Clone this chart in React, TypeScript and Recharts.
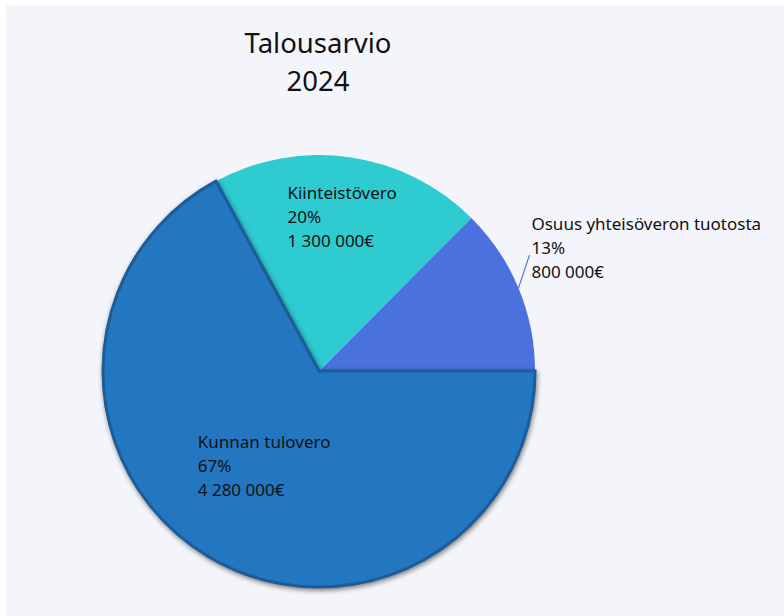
import * as React from "react";
import { PieChart, Pie, Cell } from "recharts";

const categories = ["Osuus yhteisöveron tuotosta", "Kiinteistövero", "Kunnan tulovero"];
const amounts = [800000, 1300000, 4280000];
const percentLabels = ["13%", "20%", "67%"];
const amountLabels = ["800 000€", "1 300 000€", "4 280 000€"];

const COLORS = ["#4a71de", "#2ecbd1", "#2277c0"];
const FONT = "'Segoe UI', 'Noto Sans', 'Open Sans', sans-serif";

const data = categories.map((name, i) => ({
  name,
  value: amounts[i],
  pct: percentLabels[i],
  amount: amountLabels[i],
}));

const RAD = Math.PI / 180;

const renderLabel = (props: any) => {
  const { cx, cy, midAngle, outerRadius, index } = props;
  const d = data[index];
  const lines = [d.name, d.pct, d.amount];
  const lh = 24;

  if (index === 0) {
    // outside label with a short leader line
    const sx = cx + outerRadius * Math.cos(-midAngle * RAD);
    const sy = cy + outerRadius * Math.sin(-midAngle * RAD);
    const ex = sx + 11;
    const ey = sy - 33;
    return (
      <g>
        <line x1={sx} y1={sy} x2={ex} y2={ey} stroke={COLORS[0]} strokeWidth={1.2} />
        {lines.map((t, i) => (
          <text
            key={i}
            x={ex + 2}
            y={ey - 32 + i * lh}
            fill="#111"
            fontSize={17}
            fontFamily={FONT}
            dominantBaseline="central"
          >
            {t}
          </text>
        ))}
      </g>
    );
  }

  const factor = index === 1 ? 0.73 : 0.5;
  const mx = cx + outerRadius * factor * Math.cos(-midAngle * RAD);
  const my = cy + outerRadius * factor * Math.sin(-midAngle * RAD);
  const w = index === 1 ? 108 : 132;
  return (
    <g>
      {lines.map((t, i) => (
        <text
          key={i}
          x={mx - w / 2}
          y={my + (i - 1) * lh + (index === 1 ? 2 : 2)}
          fill="#111"
          fontSize={17}
          fontFamily={FONT}
          dominantBaseline="central"
        >
          {t}
        </text>
      ))}
    </g>
  );
};

export default function App() {
  return (
    <div
      style={{
        position: "absolute",
        left: 6,
        top: 5,
        width: 778,
        height: 611,
        background: "#f4f5fa",
        fontFamily: FONT,
      }}
    >
      <div
        style={{
          position: "absolute",
          left: 212,
          top: 19,
          width: 200,
          textAlign: "center",
          fontSize: 27.5,
          lineHeight: "38px",
          color: "#111",
        }}
      >
        Talousarvio
        <br />
        2024
      </div>
      <PieChart width={778} height={611} style={{ position: "absolute", left: 0, top: 0 }}>
        <Pie
          data={data}
          dataKey="value"
          nameKey="name"
          cx={308}
          cy={361}
          outerRadius={216}
          startAngle={0}
          endAngle={360}
          label={renderLabel}
          labelLine={false}
          isAnimationActive={false}
          stroke="none"
        >
          {data.map((entry, index) => (
            <Cell
              key={`cell-${index}`}
              fill={COLORS[index]}
              stroke={index === 2 ? "#1d5c99" : "none"}
              strokeWidth={index === 2 ? 3 : 0}
              style={
                index === 2
                  ? { filter: "drop-shadow(1px 2px 2.5px rgba(0,0,0,0.5))" }
                  : undefined
              }
            />
          ))}
        </Pie>
      </PieChart>
    </div>
  );
}
